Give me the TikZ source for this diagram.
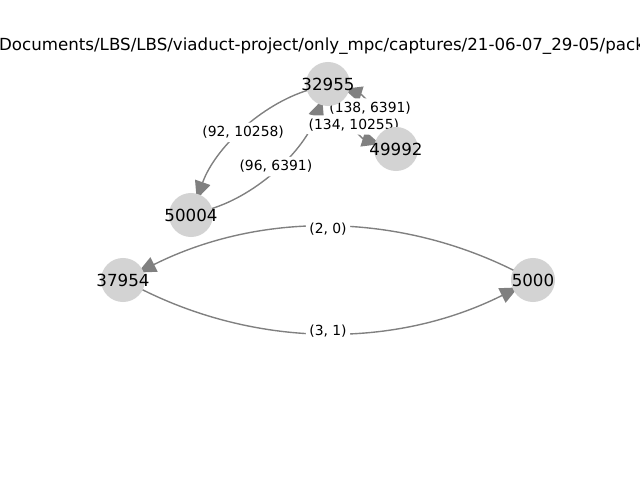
\documentclass[tikz,border=0pt]{standalone}
\usepackage{fontspec}
\setmainfont{DejaVu Sans}
\usetikzlibrary{calc,arrows.meta}
\pgfdeclarelayer{edges}
\pgfdeclarelayer{elabels}
\pgfsetlayers{edges,elabels,main}
\definecolor{nodegray}{RGB}{211,211,211}
\definecolor{edgegray}{RGB}{128,128,128}
\tikzset{
  nxnode/.style={circle, fill=nodegray, draw=none, minimum size=31.7pt, inner sep=0pt},
  nlabel/.style={font=\fontsize{12}{14}\selectfont, inner sep=0pt, text=black},
  nxarc/.style={draw=edgegray, line width=1pt, -{Triangle[length=13pt,width=11.5pt]}, shorten >=12pt, shorten <=15pt},
  elabel/.style={fill=white, rounded corners=3pt, inner sep=2.5pt, font=\fontsize{10}{12}\selectfont, text=black},
  titlestyle/.style={font=\fontsize{12}{14}\selectfont, inner sep=0pt, anchor=base}
}
\newcommand{\nxedge}[3]{%
  \path coordinate (ctl) at ($(#1.center)!0.5!(#2.center)!0.5!-90:(#2.center)$);
  \begin{pgfonlayer}{edges}
    \draw[nxarc] (#1.center) .. controls ($(#1.center)!2/3!(ctl)$) and ($(#2.center)!2/3!(ctl)$) .. (#2.center);
  \end{pgfonlayer}
  \begin{pgfonlayer}{elabels}
    \path (#1.center) .. controls ($(#1.center)!2/3!(ctl)$) and ($(#2.center)!2/3!(ctl)$) .. (#2.center) node[elabel, pos=0.5] {#3};
  \end{pgfonlayer}%
}
\begin{document}
\begin{tikzpicture}[x=0.72pt, y=-0.72pt]
\useasboundingbox (0,0) rectangle (640,480);
\begin{scope}
\clip (0,0) rectangle (640,480);
\node[titlestyle] (title) at (322,50) {Documents/LBS/LBS/viaduct-project/only\_mpc/captures/21-06-07\_29-05/pack};
\end{scope}
\node[nxnode, label={[nlabel]center:32955}] (n32955) at (328,84) {};
\node[nxnode, label={[nlabel]center:49992}] (n49992) at (396,149) {};
\node[nxnode, label={[nlabel]center:50004}] (n50004) at (191,215) {};
\node[nxnode, label={[nlabel]center:37954}] (n37954) at (123,280) {};
\node[nxnode, label={[nlabel]center:5000}] (n5000) at (533,280) {};
\nxedge{n5000}{n37954}{(2, 0)}
\nxedge{n37954}{n5000}{(3, 1)}
\nxedge{n32955}{n50004}{(92, 10258)}
\nxedge{n50004}{n32955}{(96, 6391)}
\nxedge{n32955}{n49992}{(134, 10255)}
\nxedge{n49992}{n32955}{(138, 6391)}
\end{tikzpicture}
\end{document}
